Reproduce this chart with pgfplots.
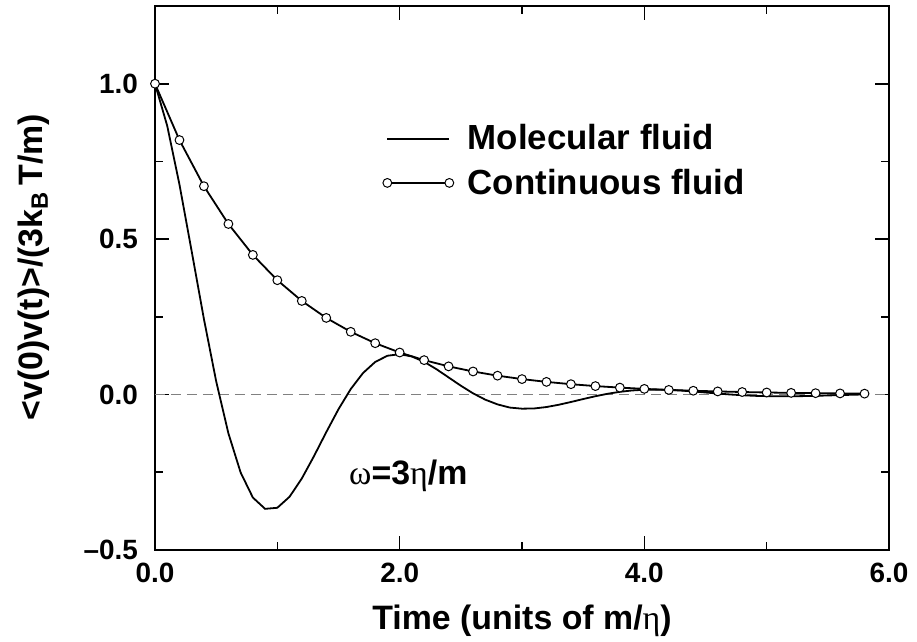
\documentclass[border=0pt]{standalone}
\usepackage{fontspec}
\setmainfont{Liberation Sans}
\newfontfamily\greekf{Liberation Serif}
\usepackage{pgfplots}
\pgfplotsset{compat=1.18}
\begin{document}
\begin{tikzpicture}
\begin{axis}[
  scale only axis,
  width=367bp, height=272bp,
  xmin=0, xmax=6, ymin=-0.5, ymax=1.25,
  axis line style={line width=1bp},
  xtick={0,2,4,6}, xticklabels={0.0,2.0,4.0,6.0},
  minor xtick={1,3,5},
  ytick={-0.5,0,0.5,1}, yticklabels={--0.5,0.0,0.5,1.0},
  minor ytick={-0.25,0.25,0.75},
  tick pos=both,
  tick align=inside,
  major tick length=7bp, minor tick length=4bp,
  every tick/.style={line width=0.8bp, black},
  tick label style={font=\bfseries\fontsize{14}{16}\selectfont},
  yticklabel style={xshift=-5bp},
  xticklabel style={yshift=-3bp},
  xlabel={\bfseries Time (units of m/{\greekf\mdseries η})},
  ylabel={\bfseries <v(0)v(t)>/(3k\textsubscript{B}\,T/m)},
  every axis x label/.style={at={(axis description cs:0.5,-0.13)}, anchor=center,
    font=\fontsize{17}{19}\selectfont},
  every axis y label/.style={at={(axis description cs:-0.165,0.52)}, anchor=center, rotate=90,
    font=\fontsize{17}{19}\selectfont},
  legend style={draw=none, fill=none, at={(axis cs:1.86,0.87)}, anchor=north west,
    inner sep=0pt, row sep=8bp, font=\bfseries\fontsize{17.5}{19}\selectfont,
    nodes={inner sep=0pt}, column sep=7bp},
  legend cell align=left,
  legend image code/.code={\draw[#1] plot coordinates {(0bp,0bp) (31bp,0bp)};},
]
\addplot[gray, dash pattern=on 5bp off 3bp, line width=0.6bp, forget plot] coordinates {(0,0) (6,0)};
\addplot[black, line width=0.9bp, mark=none] coordinates {
(0.0,1.0000) (0.1,0.8644) (0.2,0.6757) (0.3,0.4605) (0.4,0.2429) (0.5,0.0429)
(0.6,-0.1247) (0.7,-0.2507) (0.8,-0.3313) (0.9,-0.3676) (1.0,-0.3642)
(1.1,-0.3287) (1.2,-0.2701) (1.3,-0.1978) (1.4,-0.1209) (1.5,-0.0470)
(1.6,0.0177) (1.7,0.0691) (1.8,0.1049) (1.9,0.1249) (2.0,0.1299)
(2.1,0.1225) (2.2,0.1053) (2.3,0.0818) (2.4,0.0552) (2.5,0.0285)
(2.6,0.0040) (2.7,-0.0164) (2.8,-0.0316) (2.9,-0.0418) (3.0,-0.0454)
(3.1,-0.0447) (3.2,-0.0401) (3.3,-0.0328) (3.4,-0.0239) (3.5,-0.0144)
(3.6,-0.0053) (3.7,0.0026) (3.8,0.0088) (3.9,0.0132) (4.0,0.0155)
(4.1,0.0160) (4.2,0.0150) (4.3,0.0129) (4.4,0.0100) (4.5,0.0066)
(4.6,0.0034) (4.7,0.0003) (4.8,-0.0021) (4.9,-0.0040) (5.0,-0.0051)
(5.1,-0.0056) (5.2,-0.0055) (5.3,-0.0049) (5.4,-0.0040) (5.5,-0.0029)
(5.6,-0.0017) (5.7,-0.0006) (5.8,0.0004)
};
\addlegendentry{Molecular fluid}
\addplot[black, line width=0.9bp, mark=*, mark size=2.2bp,
  mark options={fill=white, draw=black, line width=0.5bp}] coordinates {
(0.0,1.0000) (0.2,0.8187) (0.4,0.6703) (0.6,0.5488) (0.8,0.4493) (1.0,0.3679)
(1.2,0.3012) (1.4,0.2466) (1.6,0.2019) (1.8,0.1653) (2.0,0.1353)
(2.2,0.1108) (2.4,0.0907) (2.6,0.0743) (2.8,0.0608) (3.0,0.0498)
(3.2,0.0408) (3.4,0.0334) (3.6,0.0273) (3.8,0.0224) (4.0,0.0183)
(4.2,0.0150) (4.4,0.0123) (4.6,0.0101) (4.8,0.0082) (5.0,0.0067)
(5.2,0.0055) (5.4,0.0045) (5.6,0.0037) (5.8,0.0030)
};
\addlegendentry{Continuous fluid}
\node[anchor=west, font=\bfseries\fontsize{17}{19}\selectfont] at (axis cs:1.53,-0.26)
  {{\greekf\mdseries ω}=3{\greekf\mdseries η}/m};
\end{axis}
\pgfresetboundingbox
\path (-77.5bp,-46bp) rectangle (381bp,275bp);
\end{tikzpicture}
\end{document}
